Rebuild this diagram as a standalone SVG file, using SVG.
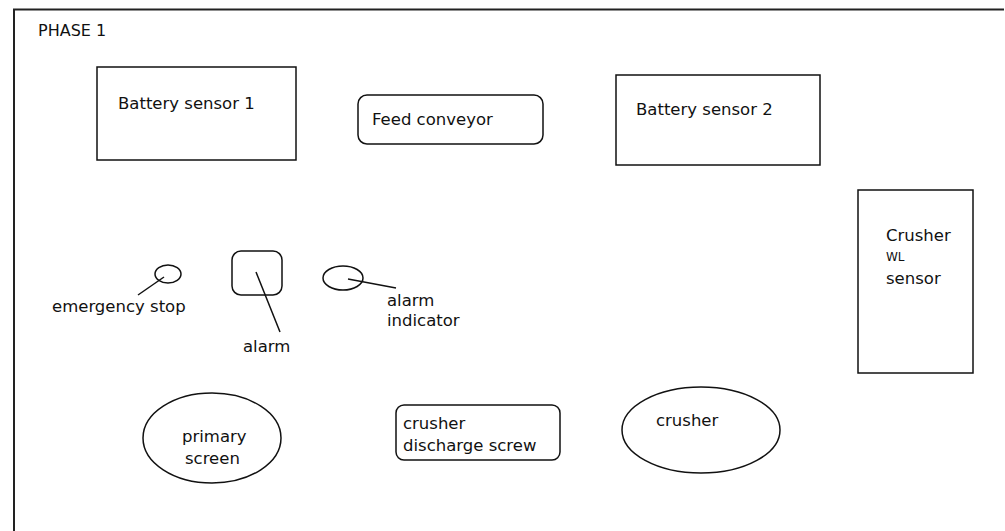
<svg xmlns="http://www.w3.org/2000/svg" width="1005" height="531" viewBox="0 0 1005 531">
<style>
.s{fill:none;stroke:#111;stroke-width:1.5}
.t{font-family:"DejaVu Sans","Liberation Sans",sans-serif;font-size:16.5px;fill:#111}
.f{fill:none;stroke:#222;stroke-width:2}
</style>
<rect width="1005" height="531" fill="#fff"/>
<g id="frame">
<path class="f" d="M14,531 L14,9.5 L1004,9.5"/>
<text class="t" x="38" y="36" style="font-size:16px">PHASE 1</text>
</g>
<g id="battery-sensor-1">
<rect class="s" x="97" y="67" width="199" height="93"/>
<text class="t" x="118" y="109">Battery sensor 1</text>
</g>
<g id="feed-conveyor">
<rect class="s" x="358" y="95" width="185" height="49" rx="9"/>
<text class="t" x="372" y="125">Feed conveyor</text>
</g>
<g id="battery-sensor-2">
<rect class="s" x="616" y="75" width="204" height="90"/>
<text class="t" x="636" y="115">Battery sensor 2</text>
</g>
<g id="crusher-wl-sensor">
<rect class="s" x="858" y="190" width="115" height="183"/>
<text class="t" x="886" y="241">Crusher</text>
<text class="t" x="886" y="261" style="font-size:12px">WL</text>
<text class="t" x="886" y="284">sensor</text>
</g>
<g id="emergency-stop">
<ellipse class="s" cx="168" cy="274" rx="13" ry="9"/>
<text class="t" x="52" y="312">emergency stop</text>
</g>
<g id="alarm">
<rect class="s" x="232" y="251" width="50" height="44" rx="9"/>
<text class="t" x="243" y="352">alarm</text>
</g>
<g id="alarm-indicator">
<ellipse class="s" cx="343" cy="278" rx="20" ry="12"/>
<text class="t" x="387" y="306">alarm</text>
<text class="t" x="387" y="326">indicator</text>
</g>
<g id="primary-screen">
<ellipse class="s" cx="212" cy="438" rx="69" ry="45"/>
<text class="t" x="182" y="442">primary</text>
<text class="t" x="185" y="464">screen</text>
</g>
<g id="crusher-discharge-screw">
<rect class="s" x="396" y="405" width="164" height="55" rx="8"/>
<text class="t" x="403" y="429">crusher</text>
<text class="t" x="403" y="451">discharge screw</text>
</g>
<g id="crusher">
<ellipse class="s" cx="701" cy="430" rx="79" ry="43"/>
<text class="t" x="656" y="426">crusher</text>
</g>
<g id="connectors">
<line class="s" x1="164" y1="277" x2="138" y2="295"/>
<line class="s" x1="256" y1="272" x2="280" y2="332"/>
<line class="s" x1="348" y1="279" x2="396" y2="288"/>
</g>
</svg>
